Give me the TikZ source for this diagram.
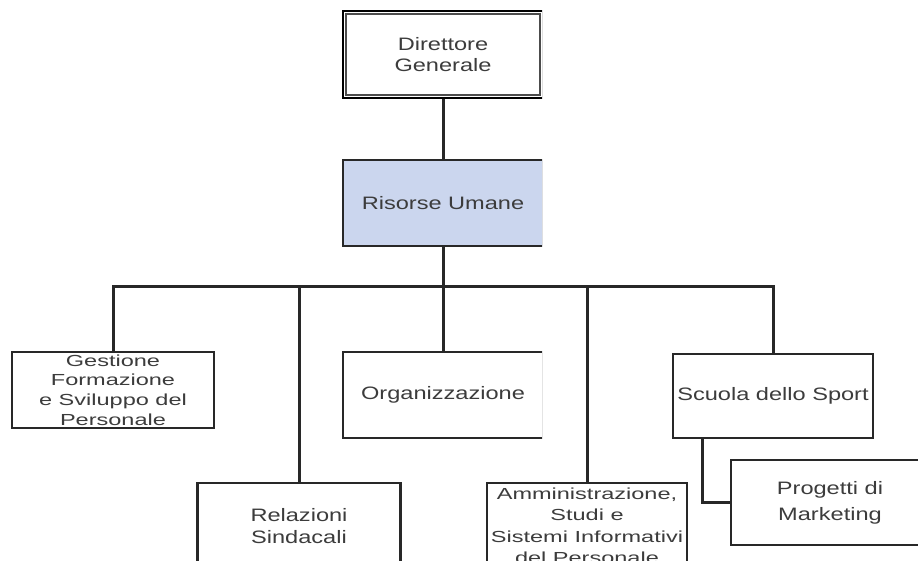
\documentclass[tikz,border=0pt]{standalone}
\usepackage{fontspec}
\newfontfamily\lblfont[FakeStretch=1.31]{Liberation Sans}
\newfontfamily\lblnarrow[FakeStretch=1.47]{Liberation Sans}
\definecolor{hrblue}{RGB}{203,214,238}
\definecolor{ink}{RGB}{40,40,40}
\definecolor{txt}{RGB}{60,60,60}
\begin{document}
\begin{tikzpicture}[x=1pt,y=-1pt,
  box/.style={draw=ink, line width=2.2pt, inner sep=0pt, align=center, text=txt,
              font=\lblfont\fontsize{18}{21.5}\selectfont},
  smalltext/.style={font=\lblnarrow\fontsize{16}{#1}\selectfont},
  conn/.style={draw=ink, line width=3pt}]
\useasboundingbox (0,0) rectangle (918,561);
\fill[white] (0,0) rectangle (918,561);

% central column, cut at its right side
\begin{scope}
  \clip (0,0) rectangle (542,561);
  \node[box, draw=black, line width=2.5pt, minimum width=200pt, minimum height=87pt]
    (dg) at (443,54.5) {Direttore\\Generale};
  \draw[black!70, line width=1.8pt]
    ([xshift=4.5pt,yshift=-4.5pt]dg.north west) rectangle ([xshift=-4.5pt,yshift=4.5pt]dg.south east);
  \node[box, fill=hrblue, minimum width=200pt, minimum height=86pt]
    (rs) at (443,203) {Risorse Umane};
  \node[box, minimum width=200pt, minimum height=86pt]
    (org) at (443,395) {Organizzazione};
\end{scope}

% remaining units
\node[box, smalltext=19.7, minimum width=202pt, minimum height=76pt]
  (gest) at (113,390) {Gestione\\Formazione\\e Sviluppo del\\Personale};
\node[box, font=\lblfont\fontsize{18}{22}\selectfont, minimum width=203pt, minimum height=86pt]
  (rel) at (299,526) {Relazioni\\Sindacali};
\node[box, smalltext=21.5, minimum width=200pt, minimum height=86pt]
  (amm) at (587,526) {Amministrazione,\\Studi e\\Sistemi Informativi\\del Personale};
\node[box, minimum width=200pt, minimum height=84pt]
  (scu) at (773,396) {Scuola dello Sport};
\node[box, font=\lblfont\fontsize{18}{26}\selectfont, minimum width=198pt, minimum height=85pt]
  (prog) at (830,502.5) {Progetti di\\Marketing};

% connectors
\coordinate (bus) at (443,287);
\draw[conn] (dg.south) -- (rs.north);
\draw[conn] (rs.south) -- (bus);
\draw[conn] (bus) -| (gest.north);
\draw[conn] (bus) -| (rel.north);
\draw[conn] (bus) -- (org.north);
\draw[conn] (bus) -| (amm.north);
\draw[conn] (bus) -| (scu.north);
\draw[conn] ([xshift=-71pt]scu.south) |- (prog.west);
\end{tikzpicture}
\end{document}
